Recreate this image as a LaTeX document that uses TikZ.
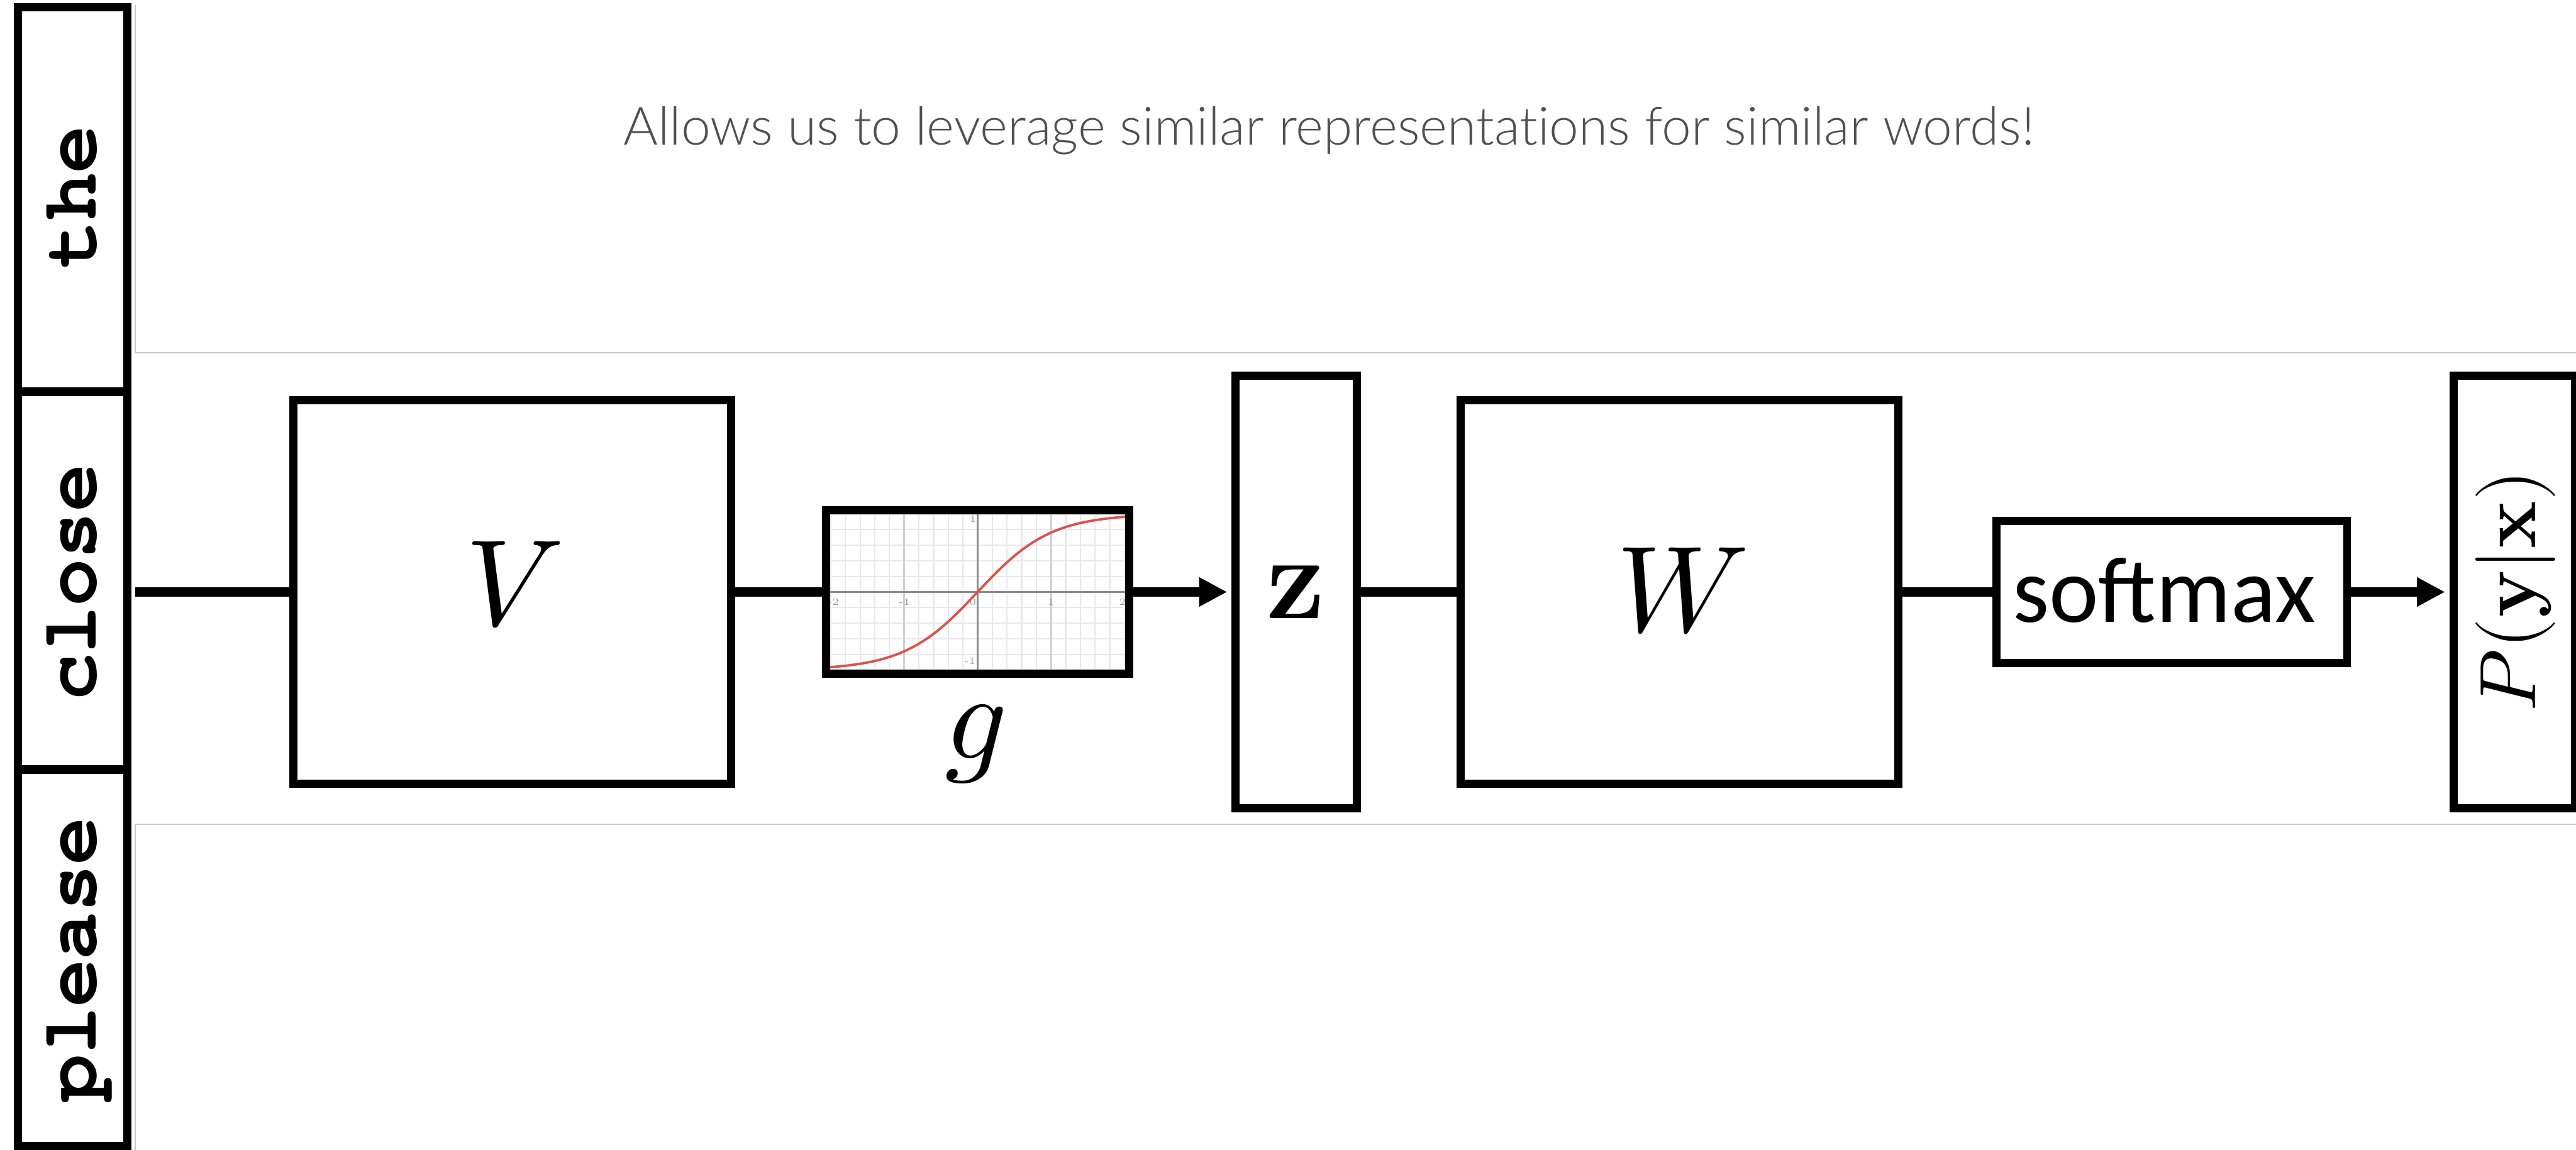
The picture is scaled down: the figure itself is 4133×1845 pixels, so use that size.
\documentclass[tikz,border=0pt]{standalone}
\usepackage{fontspec}
\usepackage{unicode-math}
\setmathfont{Latin Modern Math}
\newfontfamily\captionfont{Lato Light}[Ligatures=NoCommon]
\newfontfamily\wordfont{texgyrecursor}[Extension=.otf, UprightFont=*-regular, BoldFont=*-bold]
\newfontfamily\calfont{Carlito}
\usetikzlibrary{arrows.meta}
\definecolor{capgray}{HTML}{505050}
\definecolor{framegray}{HTML}{C8C8C8}
\definecolor{gridgray}{HTML}{E8E8E8}
\definecolor{majgray}{HTML}{D0D0D0}
\definecolor{axgray}{HTML}{8C8C8C}
\definecolor{curvered}{HTML}{D9534F}
\definecolor{tickgray}{HTML}{999999}
\begin{document}
\begin{tikzpicture}[x=0.01cm,y=-0.01cm,line join=miter,
  cell/.style={draw, line width=3.7pt, minimum width=1.76cm, inner sep=0pt},
  word/.style={font=\wordfont\bfseries\fontsize{36}{40}\selectfont, inner sep=0pt, rotate=90, anchor=base},
  box/.style={draw, line width=3.7pt, inner sep=0pt},
  mathlbl/.style={inner sep=0pt, font=\fontsize{56}{60}\selectfont},
  conn/.style={line width=4.1pt},
  tip/.style={-{Triangle[length=0.45cm,width=0.44cm]}, shorten >=0.07cm},
  frame/.style={framegray, line width=0.7pt},
  tick/.style={text=tickgray, inner sep=0pt, font=\fontsize{4.5}{5}\selectfont}]
\useasboundingbox (0,0) rectangle (4133,1845);

% slide frames
\draw[frame] (217,8) -- (217,566) -- (4140,566);
\draw[frame] (4140,1323) -- (217,1323) -- (217,1850);

% caption
\node[font=\captionfont\fontsize{24.1}{28}\selectfont, text=capgray, anchor=base, inner sep=0pt] (cap) at (2132,233) {Allows us to leverage similar representations for similar words!};

% word column
\node[cell, minimum height=6.17cm] (cthe) at (116.5,320) {};
\node[cell, minimum height=6.065cm] (cclose) at (116.5,931.75) {};
\node[cell, minimum height=6.035cm] (cplease) at (116.5,1536.75) {};
\node[word] (wthe) at (154,316) {the};
\node[word] (wclose) at (154,935) {close};
\node[word] (wplease) at (154,1540) {please};

% sigmoid plot inside g box
\begin{scope}
  \clip (1332,825) rectangle (1805,1075);
  \foreach \i in {-10,...,10} {
    \draw[gridgray, line width=0.6pt] ({1568.5+23.55*\i},800) -- ({1568.5+23.55*\i},1100);
  }
  \foreach \j in {-5,...,5} {
    \draw[gridgray, line width=0.6pt] (1300,{950+25*\j}) -- (1830,{950+25*\j});
  }
  \draw[majgray, line width=0.8pt] (1450.75,800) -- (1450.75,1100);
  \draw[majgray, line width=0.8pt] (1686.25,800) -- (1686.25,1100);
  \draw[axgray, line width=0.9pt] (1300,950) -- (1830,950);
  \draw[axgray, line width=0.9pt] (1568.5,800) -- (1568.5,1100);
  \draw[curvered, line width=1.1pt] plot[domain=-2.05:2.05, samples=90, smooth] ({1568.5+117.75*\x},{950-125*tanh(\x)});
  \node[tick] (tm2) at (1337,966) {-2};
  \node[tick] (tm1) at (1451,966) {-1};
  \node[tick] (t0) at (1561,966) {0};
  \node[tick] (tp1) at (1686,966) {1};
  \node[tick] (tp2) at (1801,966) {2};
  \node[tick] (ty1) at (1561,833) {1};
  \node[tick] (tym1) at (1556,1061) {-1};
\end{scope}

% boxes
\node[box, minimum width=7.02cm, minimum height=6.15cm] (V) at (821.5,950) {};
\node[box, minimum width=4.86cm, minimum height=2.63cm] (G) at (1568.5,950) {};
\node[box, minimum width=1.94cm, minimum height=6.93cm, font=\fontsize{54}{58}\selectfont] (Z) at (2079.5,950) {$\mathbf{z}$};
\node[box, minimum width=7.02cm, minimum height=6.15cm] (W) at (2694.5,950) {};
\node[box, minimum width=5.62cm, minimum height=2.28cm] (S) at (3484.5,950) {};
\node[box, minimum width=1.95cm, minimum height=6.94cm] (P) at (4034,950) {};

% labels
\node[inner sep=0pt, font=\calfont\fontsize{42.7}{46}\selectfont] (Sl) at (3472,947) {softmax};
\node[mathlbl] (Vl) at (826,938) {$V$};
\node[mathlbl] (Wl) at (2700,948) {$W$};
\node[mathlbl] (gl) at (1565,1194) {$g$};
\node[inner sep=0pt, rotate=90, anchor=base, font=\fontsize{36.4}{40}\selectfont] (Pl) at (4068,948) {$P(\mathbf{y}|\mathbf{x})$};

% connectors
\coordinate (in) at (217,950);
\draw[conn] (in) -- (V.west);
\draw[conn] (V.east) -- (G.west);
\draw[conn, tip] (G.east) -- (Z.west);
\draw[conn] (Z.east) -- (W.west);
\draw[conn] (W.east) -- (S.west);
\draw[conn, tip] (S.east) -- (P.west);
\end{tikzpicture}
\end{document}
